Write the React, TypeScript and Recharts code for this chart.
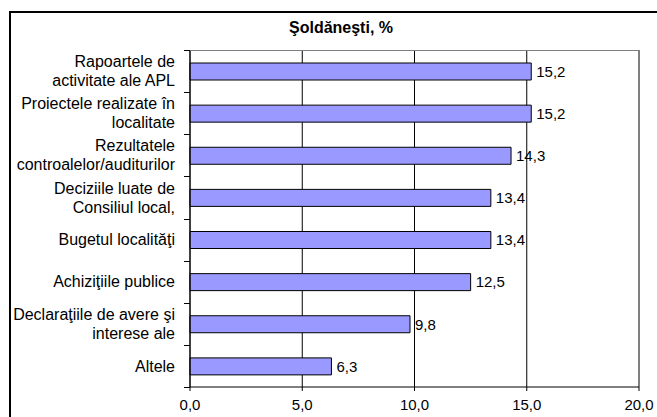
import React from 'react';
import { BarChart, Bar, XAxis, YAxis, CartesianGrid, LabelList, ReferenceLine } from 'recharts';

const title = 'Şoldăneşti, %';
const categories = [
  'Rapoartele de\nactivitate ale APL',
  'Proiectele realizate în\nlocalitate',
  'Rezultatele\ncontroalelor/auditurilor',
  'Deciziile luate de\nConsiliul local,',
  'Bugetul localităţi',
  'Achiziţiile publice',
  'Declaraţiile de avere şi\ninterese ale',
  'Altele',
];
const values = [15.2, 15.2, 14.3, 13.4, 13.4, 12.5, 9.8, 6.3];
const xTicks = [0, 5, 10, 15, 20];

const data = categories.map((name, i) => ({ name, value: values[i] }));

const FONT = '"Liberation Sans", Arial, sans-serif';
const PLOT_TOP = 50;
const PLOT_BOTTOM = 387;
const PLOT_RIGHT = 639;
const BAND = (PLOT_BOTTOM - PLOT_TOP) / categories.length;
const AXIS_X = 190;

const fmt = (v: number) => v.toFixed(1).replace('.', ',');

function CatTick(props: any) {
  const { x, y, payload } = props;
  const index = categories.indexOf(String(payload.value));
  const lines = String(payload.value).split('\n');
  const lh = 19;
  const startY = y - ((lines.length - 1) * lh) / 2;
  const top = Math.round(y - BAND / 2) + 0.5;
  const bottom = Math.round(y + BAND / 2) + 0.5;
  return (
    <g>
      <line x1={AXIS_X - 6} x2={AXIS_X} y1={top} y2={top} stroke="#000" />
      {index === categories.length - 1 && (
        <line x1={AXIS_X - 6} x2={AXIS_X} y1={bottom} y2={bottom} stroke="#000" />
      )}
      <text x={x} y={startY} textAnchor="end" fontSize={16} fontFamily={FONT} fill="#000">
        {lines.map((l, i) => (
          <tspan key={i} x={x} y={startY + i * lh} dy="0.35em">
            {l}
          </tspan>
        ))}
      </text>
    </g>
  );
}

export default function App() {
  return (
    <div style={{ position: 'absolute', left: 0, top: 0, width: 657, height: 417, overflow: 'hidden', background: '#fff' }}>
      <div
        style={{
          position: 'absolute',
          left: 9,
          top: 11,
          width: 720,
          height: 480,
          borderTop: '2px solid #000',
          borderLeft: '2px solid #000',
        }}
      />
      <div
        style={{
          position: 'absolute',
          left: 9,
          top: 18,
          width: 664,
          textAlign: 'center',
          fontFamily: FONT,
          fontWeight: 'bold',
          fontSize: 16,
          lineHeight: '20px',
          color: '#000',
        }}
      >
        {title}
      </div>
      <div style={{ position: 'absolute', left: 0, top: 0 }}>
        <BarChart
          width={657}
          height={417}
          data={data}
          layout="vertical"
          margin={{ top: PLOT_TOP, right: 657 - PLOT_RIGHT, bottom: 0, left: 0 }}
        >
          <CartesianGrid horizontal={false} stroke="#000" />
          <ReferenceLine x={20} stroke="#808080" />
          <XAxis
            type="number"
            dataKey="value"
            domain={[0, 20]}
            ticks={xTicks}
            interval={0}
            height={417 - PLOT_BOTTOM}
            tickFormatter={fmt}
            tickSize={4}
            tickMargin={8}
            axisLine={{ stroke: '#000' }}
            tickLine={{ stroke: '#000' }}
            tick={{ fill: '#000', fontSize: 15, fontFamily: FONT }}
          />
          <YAxis
            type="category"
            dataKey="name"
            width={AXIS_X}
            interval={0}
            tickLine={false}
            tickSize={0}
            tickMargin={15}
            axisLine={{ stroke: '#000' }}
            tick={<CatTick />}
          />
          <Bar dataKey="value" fill="#9999FF" stroke="#000" strokeWidth={1} barSize={17} isAnimationActive={false}>
            <LabelList
              dataKey="value"
              position="right"
              offset={5}
              formatter={(v: any) => fmt(Number(v))}
              fill="#000"
              fontSize={15}
              fontFamily={FONT}
            />
          </Bar>
        </BarChart>
      </div>
      <div
        style={{
          position: 'absolute',
          left: AXIS_X,
          top: PLOT_TOP,
          width: PLOT_RIGHT - AXIS_X + 1,
          height: 0,
          borderTop: '1px solid #808080',
        }}
      />
    </div>
  );
}
